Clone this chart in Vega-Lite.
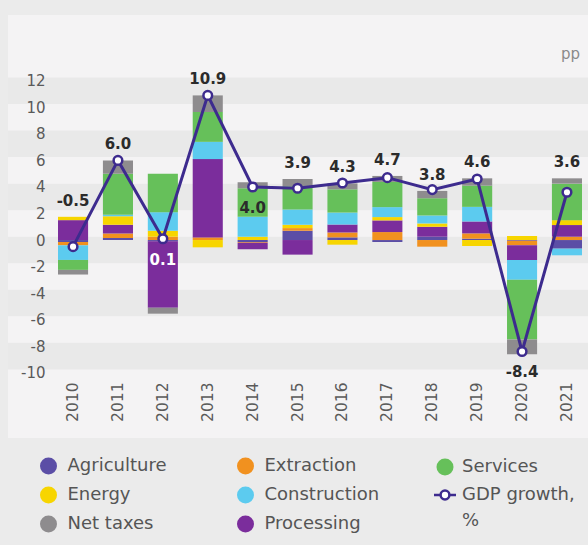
{
  "$schema": "https://vega.github.io/schema/vega-lite/v6.json",
  "autosize": {"type": "none"},
  "width": 580,
  "height": 423,
  "padding": {"left": 8, "top": 15, "right": 0, "bottom": 107},
  "background": "#ebebeb",
  "config": {
    "view": {"fill": "#f4f3f4", "stroke": null},
    "font": "DejaVu Sans",
    "axisX": {"labelAngle": -90, "offset": -60, "labelPadding": 4, "ticks": false, "domain": false, "grid": false, "labelFontSize": 15.5, "labelColor": "#5a5a5a", "labelFont": "DejaVu Sans", "zindex": 1},
    "axisY": {"offset": -40, "labelPadding": 3, "ticks": false, "domain": false, "grid": false, "labelFontSize": 15, "labelColor": "#5a5a5a", "labelFont": "DejaVu Sans", "labelOverlap": false, "zindex": 2}
  },
  "title": {"text": "pp", "anchor": "end", "offset": -47, "fontSize": 15, "fontWeight": "normal", "color": "#8a8a8a", "dx": -8, "font": "DejaVu Sans"},
  "datasets": {
    "bands": [
      {"lo": 10.25, "hi": 12.25},
      {"lo": 6.25, "hi": 8.25},
      {"lo": 2.25, "hi": 4.25},
      {"lo": -1.75, "hi": 0.25},
      {"lo": -5.75, "hi": -3.75},
      {"lo": -9.75, "hi": -7.75}
    ],
    "rows": [
      {"year": "2010", "series": "Agriculture", "value": -0.15},
      {"year": "2010", "series": "Extraction", "value": -0.25},
      {"year": "2010", "series": "Processing", "value": 1.5},
      {"year": "2010", "series": "Energy", "value": 0.25},
      {"year": "2010", "series": "Construction", "value": -1.1},
      {"year": "2010", "series": "Services", "value": -0.75},
      {"year": "2010", "series": "Net taxes", "value": -0.35},
      {"year": "2011", "series": "Agriculture", "value": 0.15},
      {"year": "2011", "series": "Extraction", "value": 0.35},
      {"year": "2011", "series": "Processing", "value": 0.65},
      {"year": "2011", "series": "Energy", "value": 0.65},
      {"year": "2011", "series": "Construction", "value": 0.1},
      {"year": "2011", "series": "Services", "value": 3.1},
      {"year": "2011", "series": "Net taxes", "value": 1.0},
      {"year": "2012", "series": "Agriculture", "value": -0.1},
      {"year": "2012", "series": "Extraction", "value": 0.25},
      {"year": "2012", "series": "Processing", "value": -5.0},
      {"year": "2012", "series": "Energy", "value": 0.45},
      {"year": "2012", "series": "Construction", "value": 1.4},
      {"year": "2012", "series": "Services", "value": 2.9},
      {"year": "2012", "series": "Net taxes", "value": -0.45},
      {"year": "2013", "series": "Agriculture", "value": 0.0},
      {"year": "2013", "series": "Extraction", "value": 0.2},
      {"year": "2013", "series": "Processing", "value": 5.9},
      {"year": "2013", "series": "Energy", "value": -0.55},
      {"year": "2013", "series": "Construction", "value": 1.3},
      {"year": "2013", "series": "Services", "value": 2.25},
      {"year": "2013", "series": "Net taxes", "value": 1.25},
      {"year": "2014", "series": "Agriculture", "value": -0.15},
      {"year": "2014", "series": "Extraction", "value": -0.05},
      {"year": "2014", "series": "Processing", "value": -0.5},
      {"year": "2014", "series": "Energy", "value": 0.25},
      {"year": "2014", "series": "Construction", "value": 1.5},
      {"year": "2014", "series": "Services", "value": 2.15},
      {"year": "2014", "series": "Net taxes", "value": 0.45},
      {"year": "2015", "series": "Agriculture", "value": 0.7},
      {"year": "2015", "series": "Extraction", "value": 0.2},
      {"year": "2015", "series": "Processing", "value": -1.1},
      {"year": "2015", "series": "Energy", "value": 0.25},
      {"year": "2015", "series": "Construction", "value": 1.15},
      {"year": "2015", "series": "Services", "value": 1.75},
      {"year": "2015", "series": "Net taxes", "value": 0.55},
      {"year": "2016", "series": "Agriculture", "value": 0.2},
      {"year": "2016", "series": "Extraction", "value": 0.37},
      {"year": "2016", "series": "Processing", "value": 0.6},
      {"year": "2016", "series": "Energy", "value": -0.35},
      {"year": "2016", "series": "Construction", "value": 0.9},
      {"year": "2016", "series": "Services", "value": 1.75},
      {"year": "2016", "series": "Net taxes", "value": 0.45},
      {"year": "2017", "series": "Agriculture", "value": -0.15},
      {"year": "2017", "series": "Extraction", "value": 0.6},
      {"year": "2017", "series": "Processing", "value": 0.88},
      {"year": "2017", "series": "Energy", "value": 0.25},
      {"year": "2017", "series": "Construction", "value": 0.75},
      {"year": "2017", "series": "Services", "value": 1.9},
      {"year": "2017", "series": "Net taxes", "value": 0.45},
      {"year": "2018", "series": "Agriculture", "value": 0.25},
      {"year": "2018", "series": "Extraction", "value": -0.5},
      {"year": "2018", "series": "Processing", "value": 0.75},
      {"year": "2018", "series": "Energy", "value": 0.25},
      {"year": "2018", "series": "Construction", "value": 0.6},
      {"year": "2018", "series": "Services", "value": 1.3},
      {"year": "2018", "series": "Net taxes", "value": 0.55},
      {"year": "2019", "series": "Agriculture", "value": 0.1},
      {"year": "2019", "series": "Extraction", "value": 0.4},
      {"year": "2019", "series": "Processing", "value": 0.9},
      {"year": "2019", "series": "Energy", "value": -0.45},
      {"year": "2019", "series": "Construction", "value": 1.1},
      {"year": "2019", "series": "Services", "value": 1.6},
      {"year": "2019", "series": "Net taxes", "value": 0.55},
      {"year": "2020", "series": "Agriculture", "value": -0.05},
      {"year": "2020", "series": "Extraction", "value": -0.35},
      {"year": "2020", "series": "Processing", "value": -1.1},
      {"year": "2020", "series": "Energy", "value": 0.3},
      {"year": "2020", "series": "Construction", "value": -1.5},
      {"year": "2020", "series": "Services", "value": -4.5},
      {"year": "2020", "series": "Net taxes", "value": -1.1},
      {"year": "2021", "series": "Agriculture", "value": -0.65},
      {"year": "2021", "series": "Extraction", "value": 0.25},
      {"year": "2021", "series": "Processing", "value": 0.88},
      {"year": "2021", "series": "Energy", "value": 0.37},
      {"year": "2021", "series": "Construction", "value": -0.5},
      {"year": "2021", "series": "Services", "value": 2.75},
      {"year": "2021", "series": "Net taxes", "value": 0.4},
      {"year": "2010", "series": "GDP growth, %", "value": -0.5},
      {"year": "2011", "series": "GDP growth, %", "value": 6.0},
      {"year": "2012", "series": "GDP growth, %", "value": 0.1},
      {"year": "2013", "series": "GDP growth, %", "value": 10.9},
      {"year": "2014", "series": "GDP growth, %", "value": 4.0},
      {"year": "2015", "series": "GDP growth, %", "value": 3.9},
      {"year": "2016", "series": "GDP growth, %", "value": 4.3},
      {"year": "2017", "series": "GDP growth, %", "value": 4.7},
      {"year": "2018", "series": "GDP growth, %", "value": 3.8},
      {"year": "2019", "series": "GDP growth, %", "value": 4.6},
      {"year": "2020", "series": "GDP growth, %", "value": -8.4},
      {"year": "2021", "series": "GDP growth, %", "value": 3.6}
    ]
  },
  "layer": [
    {
      "data": {"name": "bands"},
      "mark": {"type": "rect", "color": "#e9e9e9"},
      "encoding": {
        "y": {"field": "lo", "type": "quantitative", "title": null, "scale": {"domain": [-14.92, 16.96], "nice": false, "zero": false}},
        "y2": {"field": "hi"}
      }
    },
    {
      "data": {"name": "rows"},
      "transform": [
        {"filter": "datum.series !== 'GDP growth, %'"},
        {"calculate": "indexof(['Agriculture','Extraction','Processing','Energy','Construction','Services','Net taxes'], datum.series)", "as": "stack_order"}
      ],
      "mark": {"type": "bar"},
      "encoding": {
        "x": {"field": "year", "type": "ordinal", "title": null, "scale": {"paddingInner": 0.33, "paddingOuter": 0.6236, "align": 0.893}},
        "y": {"field": "value", "type": "quantitative", "stack": "zero", "title": null, "scale": {"domain": [-14.92, 16.96], "nice": false, "zero": false}, "axis": {"values": [-10, -8, -6, -4, -2, 0, 2, 4, 6, 8, 10, 12], "tickCount": 30, "labelExpr": "'' + datum.value", "labelOverlap": false, "zindex": 2}},
        "color": {
          "field": "series", "type": "nominal",
          "scale": {
            "domain": ["Agriculture", "Extraction", "Processing", "Energy", "Construction", "Services", "Net taxes"],
            "range": ["#5b4ea6", "#f1911f", "#7b2d9c", "#f7d500", "#5ccbef", "#66c05a", "#8e8c8e"]
          },
          "legend": {
            "title": null, "orient": "none", "legendX": 31.5, "legendY": 442,
            "values": ["Agriculture", "Energy", "Net taxes", "Extraction", "Construction", "Processing"],
            "columns": 2, "columnPadding": 70, "rowPadding": 11,
            "symbolType": "circle", "symbolSize": 289, "symbolStrokeWidth": 0,
            "labelFont": "DejaVu Sans", "labelFontSize": 18, "labelColor": "#555555", "labelOffset": 10,
            "padding": 0, "labelLimit": 300
          }
        },
        "order": {"field": "stack_order", "type": "quantitative"}
      }
    },
    {
      "data": {"name": "rows"},
      "transform": [{"filter": "datum.series === 'GDP growth, %'"}],
      "mark": {"type": "line", "strokeWidth": 3},
      "encoding": {
        "x": {"field": "year", "type": "ordinal", "title": null},
        "y": {"field": "value", "type": "quantitative", "title": null},
        "stroke": {
          "field": "series", "type": "nominal",
          "scale": {"domain": ["Services", "GDP growth, %"], "range": ["#66c05a", "#3d2b8e"]},
          "legend": {
            "title": null, "orient": "none", "legendX": 428, "legendY": 443,
            "columns": 1, "rowPadding": 9, "symbolSize": 484,
            "labelFont": "DejaVu Sans", "labelFontSize": 18, "labelColor": "#555555", "labelOffset": 8,
            "padding": 0, "labelLimit": 300,
            "labelExpr": "datum.value === 'GDP growth, %' ? ['GDP growth,', '%'] : datum.label",
            "encode": {
              "symbols": {"update": {
                "shape": {"signal": "datum.value === 'GDP growth, %' ? 'M-1,0L-0.4,0M0.4,0L1,0M0.4,0A0.4,0.4,0,1,1,-0.4,0A0.4,0.4,0,1,1,0.4,0' : 'circle'"},
                "fill": {"signal": "datum.value === 'GDP growth, %' ? '#ffffff' : '#66c05a'"},
                "stroke": {"signal": "datum.value === 'GDP growth, %' ? '#3d2b8e' : '#66c05a'"},
                "strokeWidth": {"signal": "datum.value === 'GDP growth, %' ? 2.5 : 0"},
                "size": {"signal": "datum.value === 'GDP growth, %' ? 484 : 289"},
                "opacity": {"value": 1}
              }},
              "labels": {"update": {"lineHeight": {"value": 26}}}
            }
          }
        }
      }
    },
    {
      "data": {"name": "rows"},
      "transform": [{"filter": "datum.series === 'GDP growth, %'"}],
      "mark": {"type": "point", "filled": true, "fill": "#ffffff", "stroke": "#3d2b8e", "strokeWidth": 2.5, "size": 75, "opacity": 1},
      "encoding": {
        "x": {"field": "year", "type": "ordinal", "title": null},
        "y": {"field": "value", "type": "quantitative", "title": null}
      }
    },
    {
      "data": {"name": "rows"},
      "transform": [
        {"calculate": "datum.series !== 'GDP growth, %' && datum.value > 0 ? datum.value : 0", "as": "pos"},
        {"joinaggregate": [{"op": "sum", "field": "pos", "as": "top"}], "groupby": ["year"]},
        {"filter": "datum.series === 'GDP growth, %'"},
        {"filter": {"not": {"field": "year", "oneOf": ["2012", "2014", "2020"]}}},
        {"calculate": "replace(format(datum.value, '.1f'), '\u2212', '-')", "as": "label"}
      ],
      "mark": {"type": "text", "dy": -11, "baseline": "alphabetic", "fontSize": 15, "fontWeight": "bold", "color": "#2b2b2b", "font": "DejaVu Sans"},
      "encoding": {
        "x": {"field": "year", "type": "ordinal", "title": null},
        "y": {"field": "top", "type": "quantitative", "title": null},
        "text": {"field": "label"}
      }
    },
    {
      "data": {"name": "rows"},
      "transform": [
        {"filter": "datum.series === 'GDP growth, %'"},
        {"filter": {"field": "year", "oneOf": ["2012", "2014", "2020"]}},
        {"calculate": "replace(format(datum.value, '.1f'), '\u2212', '-')", "as": "label"}
      ],
      "mark": {"type": "text", "dy": 21, "baseline": "middle", "fontSize": 15, "fontWeight": "bold", "font": "DejaVu Sans"},
      "encoding": {
        "x": {"field": "year", "type": "ordinal", "title": null},
        "y": {"field": "value", "type": "quantitative", "title": null},
        "text": {"field": "label"},
        "color": {"condition": {"test": "datum.year === '2012'", "value": "#ffffff"}, "value": "#2b2b2b"}
      }
    }
  ]
}
